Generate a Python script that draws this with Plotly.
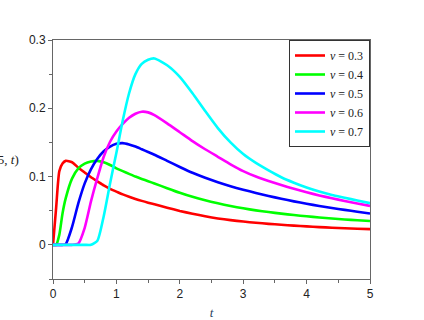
import plotly.graph_objects as go

t = [0, 0.05, 0.1, 0.15, 0.2, 0.3, 0.4, 0.5, 0.6, 0.7, 0.8, 0.9, 1.0, 1.1, 1.2, 1.3, 1.4, 1.5,
     1.6, 1.8, 2.0, 2.2, 2.4, 2.6, 2.8, 3.0, 3.2, 3.4, 3.6, 3.8, 4.0, 4.2, 4.4, 4.6, 4.8, 5.0]

nu_03 = [0, 0.055, 0.108, 0.119, 0.123, 0.121, 0.113, 0.106, 0.099, 0.093, 0.087, 0.082,
         0.078, 0.074, 0.0705, 0.0673, 0.0644, 0.0618, 0.0594, 0.0545, 0.0497, 0.0455, 0.0418,
         0.0387, 0.0362, 0.0341, 0.0323, 0.0308, 0.0294, 0.0281, 0.0270, 0.0260, 0.0251,
         0.0243, 0.0236, 0.023]
nu_04 = [0, 0.0, 0.015, 0.046, 0.068, 0.097, 0.112, 0.119, 0.122, 0.123, 0.121, 0.117,
         0.112, 0.108, 0.104, 0.100, 0.0965, 0.0932, 0.0899, 0.0830, 0.0763, 0.0703, 0.0652,
         0.0608, 0.0569, 0.0535, 0.0505, 0.0480, 0.0457, 0.0436, 0.0418, 0.0401, 0.0385,
         0.0372, 0.0360, 0.035]
nu_05 = [0, 0, 0, 0, 0.001, 0.026, 0.061, 0.090, 0.111, 0.126, 0.137, 0.144, 0.148, 0.149,
         0.147, 0.144, 0.140, 0.136, 0.132, 0.123, 0.114, 0.1055, 0.0982, 0.0918, 0.0860,
         0.0808, 0.0760, 0.0716, 0.0675, 0.0637, 0.0602, 0.0570, 0.0540, 0.0512, 0.0486, 0.046]
nu_06 = [0, 0, 0, 0, 0, 0, 0.002, 0.025, 0.064, 0.098, 0.129, 0.151, 0.166, 0.177, 0.186,
         0.192, 0.195, 0.194, 0.190, 0.178, 0.165, 0.152, 0.140, 0.129, 0.118, 0.108, 0.100,
         0.0935, 0.0875, 0.0820, 0.0770, 0.0724, 0.0682, 0.0643, 0.0606, 0.057]
nu_07 = [0, 0, 0, 0, 0, 0, 0, 0, 0.0, 0.006, 0.042, 0.090, 0.135, 0.182, 0.222, 0.250,
         0.265, 0.271, 0.273, 0.263, 0.246, 0.222, 0.196, 0.171, 0.150, 0.133, 0.120, 0.109,
         0.099, 0.091, 0.084, 0.078, 0.073, 0.069, 0.065, 0.061]

series = [("0.3", nu_03, "#ff0000"), ("0.4", nu_04, "#00ff00"), ("0.5", nu_05, "#0000ff"),
          ("0.6", nu_06, "#ff00ff"), ("0.7", nu_07, "#00ffff")]

x_ticks = [0, 1, 2, 3, 4, 5]
y_ticks = [0, 0.1, 0.2, 0.3]
y_labels = ["0", "0.1", "0.2", "0.3"]

fig = go.Figure()
for name, vals, col in series:
    fig.add_trace(go.Scatter(
        x=t, y=vals, mode="lines", name="<i>ν</i> = " + name,
        line=dict(color=col, width=2.6, shape="spline", smoothing=0.6),
    ))

axis_common = dict(
    showgrid=False, zeroline=False, showline=True, mirror=True, automargin=False,
    linecolor="#666666", linewidth=1,
    ticks="outside", ticklen=4, tickcolor="#666666", tickwidth=1,
    tickfont=dict(family="Liberation Sans, Arial, sans-serif", size=12, color="#222222"),
    minor=dict(ticks="outside", ticklen=3, tickcolor="#666666", tickwidth=1),
)

fig.update_layout(
    width=424, height=320,
    margin=dict(l=53, r=54, t=40, b=41),
    paper_bgcolor="white", plot_bgcolor="white",
    showlegend=True,
    legend=dict(
        x=1.0, xanchor="right", y=1.0, yanchor="top",
        bgcolor="white", bordercolor="#333333", borderwidth=1,
        font=dict(family="Liberation Serif, DejaVu Serif, serif", size=12, color="#222222"),
        tracegroupgap=0,
    ),
    xaxis=dict(range=[0, 5], tickvals=x_ticks, ticktext=[str(v) for v in x_ticks],
               title=dict(text="<i>t</i>",
                          font=dict(family="Liberation Serif, DejaVu Serif, serif", size=13)),
               **axis_common),
    yaxis=dict(range=[-0.05, 0.3], tickvals=y_ticks, ticktext=y_labels, **axis_common),
)
fig.update_xaxes(minor=dict(dtick=0.5, tick0=0))
fig.update_yaxes(minor=dict(dtick=0.05, tick0=0))

fig.add_annotation(
    text="<i>u</i>(5, <i>t</i>)", xref="paper", yref="paper", x=-0.101, y=0.5,
    xanchor="right", yanchor="middle", showarrow=False,
    font=dict(family="Liberation Serif, DejaVu Serif, serif", size=13, color="#222222"),
)

fig.write_html("out.html", config={"displayModeBar": False},
               post_script="document.body.style.margin='0';")
